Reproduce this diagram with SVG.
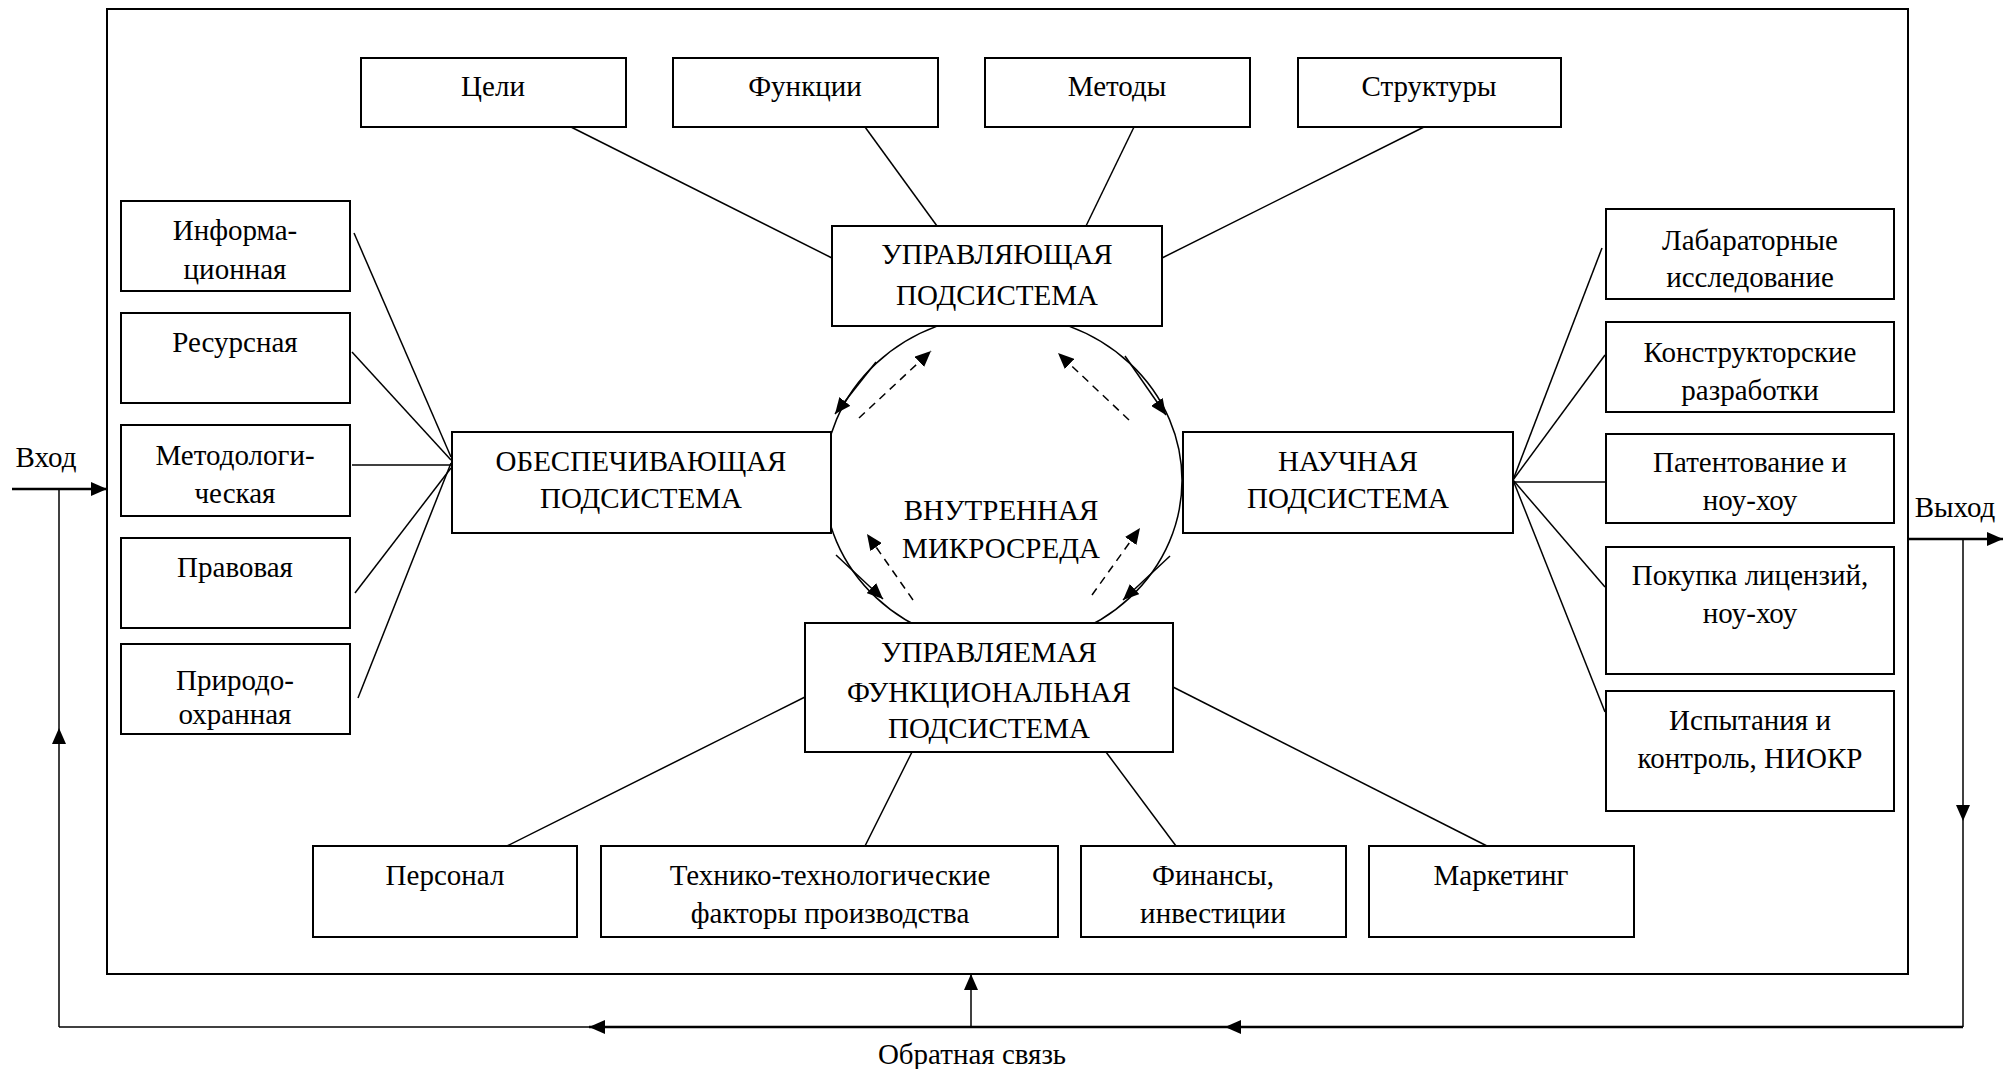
<svg xmlns="http://www.w3.org/2000/svg" width="2004" height="1069" viewBox="0 0 2004 1069">
<style>
text{font-family:"Liberation Serif","Times New Roman",serif;font-size:29px;fill:#000;text-anchor:middle}
.box{fill:#fff;stroke:#000;stroke-width:2}
.ln{stroke:#000;stroke-width:1.5;fill:none}
.th{stroke:#000;stroke-width:2.5;fill:none}
.ds{stroke:#000;stroke-width:1.5;fill:none;stroke-dasharray:8 6}
.ar{marker-end:url(#ah)}
</style>
<defs>
<marker id="ah" markerUnits="userSpaceOnUse" markerWidth="16" markerHeight="14" refX="16" refY="7" orient="auto"><path d="M0,0 L16,7 L0,14 z" fill="#000"/></marker>
</defs>
<rect id="frame" x="107" y="9" width="1801" height="965" fill="none" stroke="#000" stroke-width="2"/>
<ellipse id="circle" cx="1003" cy="480.5" rx="179" ry="166" fill="none" stroke="#000" stroke-width="1.5"/>
<g id="connectors">
<line class="ln" x1="571" y1="127" x2="832" y2="258"/>
<line class="ln" x1="865" y1="127" x2="937" y2="226"/>
<line class="ln" x1="1134" y1="127" x2="1086" y2="226"/>
<line class="ln" x1="1424" y1="127" x2="1162" y2="258"/>
<line class="ln" x1="354" y1="233" x2="451" y2="457"/>
<line class="ln" x1="352" y1="352" x2="451" y2="460"/>
<line class="ln" x1="352" y1="465" x2="451" y2="465"/>
<line class="ln" x1="355" y1="593" x2="451" y2="468"/>
<line class="ln" x1="358" y1="698" x2="451" y2="463"/>
<line class="ln" x1="1513" y1="480" x2="1602" y2="248"/>
<line class="ln" x1="1513" y1="480" x2="1605" y2="355"/>
<line class="ln" x1="1513" y1="482" x2="1606" y2="482"/>
<line class="ln" x1="1513" y1="480" x2="1605" y2="587"/>
<line class="ln" x1="1513" y1="480" x2="1605" y2="712"/>
<line class="ln" x1="507" y1="846" x2="805" y2="697"/>
<line class="ln" x1="865" y1="846" x2="912" y2="752"/>
<line class="ln" x1="1176" y1="846" x2="1106" y2="752"/>
<line class="ln" x1="1487" y1="846" x2="1173" y2="687"/>
<line class="ln ar" x1="876" y1="362" x2="835" y2="414"/>
<line class="ds ar" x1="859" y1="418" x2="931" y2="351"/>
<line class="ds ar" x1="1129" y1="420" x2="1058" y2="353"/>
<line class="ln ar" x1="1125" y1="356" x2="1166" y2="415"/>
<line class="ds ar" x1="913" y1="600" x2="867" y2="534"/>
<line class="ln ar" x1="836" y1="555" x2="883" y2="599"/>
<line class="ds ar" x1="1092" y1="595" x2="1140" y2="528"/>
<line class="ln ar" x1="1170" y1="556" x2="1123" y2="600"/>
<line class="th ar" x1="12" y1="489" x2="107" y2="489"/>
<line class="ln" x1="59" y1="489" x2="59" y2="728"/>
<line class="ln ar" x1="59" y1="1027" x2="59" y2="728"/>
<line class="ln" x1="59" y1="1027" x2="589" y2="1027"/>
<line class="th ar" x1="1225" y1="1027" x2="589" y2="1027"/>
<line class="th ar" x1="1963" y1="1027" x2="1225" y2="1027"/>
<line class="ln ar" x1="971" y1="1027" x2="971" y2="974"/>
<line class="th ar" x1="1907" y1="539" x2="2003" y2="539"/>
<line class="ln ar" x1="1963" y1="539" x2="1963" y2="821"/>
<line class="ln" x1="1963" y1="821" x2="1963" y2="1027"/>
</g>
<g id="n-celi"><rect class="box" x="361" y="58" width="265" height="69"/><text x="493" y="96">Цели</text></g>
<g id="n-funkcii"><rect class="box" x="673" y="58" width="265" height="69"/><text x="805" y="96">Функции</text></g>
<g id="n-metody"><rect class="box" x="985" y="58" width="265" height="69"/><text x="1117" y="96">Методы</text></g>
<g id="n-struktury"><rect class="box" x="1298" y="58" width="263" height="69"/><text x="1429" y="96">Структуры</text></g>
<g id="n-upr"><rect class="box" x="832" y="226" width="330" height="100"/><text x="997" y="264">УПРАВЛЯЮЩАЯ</text><text x="997" y="305">ПОДСИСТЕМА</text></g>
<g id="n-info"><rect class="box" x="121" y="201" width="229" height="90"/><text x="235" y="240">Информа-</text><text x="235" y="279">ционная</text></g>
<g id="n-res"><rect class="box" x="121" y="313" width="229" height="90"/><text x="235" y="352">Ресурсная</text></g>
<g id="n-metod"><rect class="box" x="121" y="425" width="229" height="91"/><text x="235" y="465">Методологи-</text><text x="235" y="503">ческая</text></g>
<g id="n-prav"><rect class="box" x="121" y="538" width="229" height="90"/><text x="235" y="577">Правовая</text></g>
<g id="n-prir"><rect class="box" x="121" y="644" width="229" height="90"/><text x="235" y="690">Природо-</text><text x="235" y="724">охранная</text></g>
<g id="n-obesp"><rect class="box" x="452" y="432" width="379" height="101"/><text x="641" y="471">ОБЕСПЕЧИВАЮЩАЯ</text><text x="641" y="508">ПОДСИСТЕМА</text></g>
<g id="n-nauch"><rect class="box" x="1183" y="432" width="330" height="101"/><text x="1348" y="471">НАУЧНАЯ</text><text x="1348" y="508">ПОДСИСТЕМА</text></g>
<g id="n-lab"><rect class="box" x="1606" y="209" width="288" height="90"/><text x="1750" y="250">Лабараторные</text><text x="1750" y="287">исследование</text></g>
<g id="n-konstr"><rect class="box" x="1606" y="322" width="288" height="90"/><text x="1750" y="362">Конструкторские</text><text x="1750" y="400">разработки</text></g>
<g id="n-patent"><rect class="box" x="1606" y="434" width="288" height="89"/><text x="1750" y="472">Патентование и</text><text x="1750" y="510">ноу-хоу</text></g>
<g id="n-lic"><rect class="box" x="1606" y="547" width="288" height="127"/><text x="1750" y="585">Покупка лицензий,</text><text x="1750" y="623">ноу-хоу</text></g>
<g id="n-isp"><rect class="box" x="1606" y="691" width="288" height="120"/><text x="1750" y="730">Испытания и</text><text x="1750" y="768">контроль, НИОКР</text></g>
<g id="n-upravl"><rect class="box" x="805" y="623" width="368" height="129"/><text x="989" y="662">УПРАВЛЯЕМАЯ</text><text x="989" y="702">ФУНКЦИОНАЛЬНАЯ</text><text x="989" y="738">ПОДСИСТЕМА</text></g>
<g id="n-pers"><rect class="box" x="313" y="846" width="264" height="91"/><text x="445" y="885">Персонал</text></g>
<g id="n-tech"><rect class="box" x="601" y="846" width="457" height="91"/><text x="830" y="885">Технико-технологические</text><text x="830" y="923">факторы производства</text></g>
<g id="n-fin"><rect class="box" x="1081" y="846" width="265" height="91"/><text x="1213" y="885">Финансы,</text><text x="1213" y="923">инвестиции</text></g>
<g id="n-mark"><rect class="box" x="1369" y="846" width="265" height="91"/><text x="1501" y="885">Маркетинг</text></g>
<g id="labels">
<text x="1001" y="520">ВНУТРЕННАЯ</text>
<text x="1001" y="558">МИКРОСРЕДА</text>
<text x="46" y="467">Вход</text>
<text x="1955" y="517">Выход</text>
<text x="972" y="1064">Обратная связь</text>
</g>
</svg>
